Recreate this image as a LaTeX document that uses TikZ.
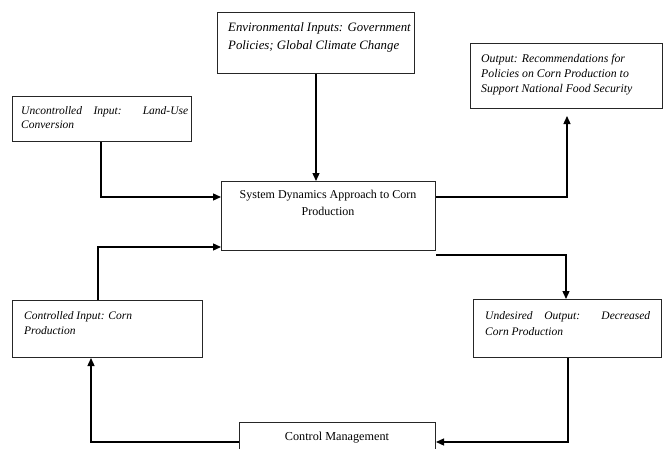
\documentclass[tikz,border=0pt]{standalone}
\usepackage{fontspec}
\setmainfont{Liberation Serif}
\usetikzlibrary{arrows.meta,calc}
\begin{document}
\begin{tikzpicture}[x=1pt,y=-1pt,
  box/.style={draw=black!85, line width=1pt, inner sep=0pt, anchor=north west},
  lbl/.style={inner sep=0pt, anchor=north west, align=left,
    font=\fontsize{11.5}{15}\selectfont\itshape},
  conn/.style={line width=1.3pt, -{Triangle[length=8pt,width=7pt]}}]
\clip (0,0) rectangle (665,448);
\fill[white] (0,0) rectangle (665,448);
% boxes
\node[box, minimum width=197pt, minimum height=61pt] (env) at (217,12) {};
\node[box, minimum width=192pt, minimum height=65pt] (out) at (470,43) {};
\node[box, minimum width=179pt, minimum height=45pt] (unc) at (12,96) {};
\node[box, minimum width=214pt, minimum height=69pt] (main) at (221,181) {};
\node[box, minimum width=190pt, minimum height=57pt] (ctl) at (12,300) {};
\node[box, minimum width=188pt, minimum height=58pt] (und) at (473,299) {};
\node[box, minimum width=196pt, minimum height=40pt] (cm) at (239,422) {};
% texts
\node[lbl, font=\fontsize{12.8}{18.5}\selectfont\itshape] (envt) at (228,22)
  {Environmental Inputs: Government\\Policies; Global Climate Change};
\node[lbl, font=\fontsize{11.8}{15}\selectfont\itshape] (outt) at (481,54)
  {Output: Recommendations for\\Policies on Corn Production to\\Support National Food Security};
\node[lbl, align=justify, text width=167pt, font=\fontsize{11.5}{14}\selectfont\itshape] (unct) at (21,106)
  {Uncontrolled Input: Land-Use\linebreak Conversion};
\node[inner sep=0pt, anchor=north, align=center, font=\fontsize{12}{17}\selectfont] (maint) at (328,190)
  {System Dynamics Approach to Corn\\Production};
\node[lbl] (ctlt) at (24,311) {Controlled Input: Corn\\Production};
\node[lbl, align=justify, text width=165pt, font=\fontsize{11.5}{16}\selectfont\itshape] (undt) at (485,311)
  {Undesired Output: Decreased\linebreak Corn Production};
\node[inner sep=0pt, font=\fontsize{12.2}{14}\selectfont] (cmt) at (337,438) {Control Management};
% connectors
\draw[conn] (env.south) -- (env.south |- main.north);
\draw[conn] ($(unc.south west)+(89,0)$) |- ($(main.north west)+(0,16)$);
\draw[conn] ($(ctl.north west)+(86,0)$) |- ($(main.north west)+(0,66)$);
\draw[conn] ($(main.north east)+(0,16)$) -| ($(out.south west)+(97,7)$);
\draw[conn] ($(main.south east)+(0,4)$) -| ($(und.north west)+(93,0)$);
\draw[conn] ($(und.south west)+(95,0)$) |- ($(cm.north east)+(0,20)$);
\draw[conn] ($(cm.north west)+(0,20)$) -| ($(ctl.south west)+(79,0)$);
\end{tikzpicture}
\end{document}
